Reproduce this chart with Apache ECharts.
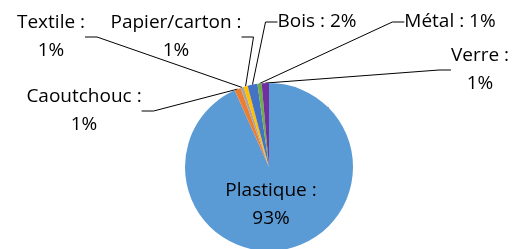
<!DOCTYPE html>
<html><head><meta charset="utf-8">
<script src="https://cdn.jsdelivr.net/npm/echarts@6/dist/echarts.min.js"></script>
<style>html,body{margin:0;padding:0;background:#fff}#c{width:528px;height:249px}</style>
</head><body><div id="c"></div>
<script>
const categories = ['Plastique', 'Caoutchouc', 'Textile', 'Papier/carton', 'Bois', 'Métal', 'Verre'];
const values = [93.3, 1.2, 0.6, 0.8, 1.9, 0.8, 1.4];
const colors = ['#5B9BD5', '#ED7D31', '#A5A5A5', '#FFC000', '#4472C4', '#70AD47', '#7030A0'];
// label layout: [x, y] centre of each label block, and whether it wraps
const labelPos = [[271, 205], [84, 111], [51, 37], [176, 37], [317, 22], [450, 22], [480, 70]];
const wrap = [true, true, true, true, false, false, true];

const total = values.reduce((a, b) => a + b, 0);
const chart = echarts.init(document.getElementById('c'));
chart.setOption({
  animation: false,
  series: [{
    type: 'pie',
    center: [269, 167],
    radius: 84,
    startAngle: 90,
    clockwise: true,
    data: categories.map((n, i) => ({
      name: n, value: values[i],
      itemStyle: { color: colors[i] },
      label: i === 0 ? { position: 'inside' } : {}
    })),
    label: {
      show: true,
      position: 'outside',
      fontFamily: 'Open Sans',
      fontSize: 19,
      lineHeight: 28,
      color: '#000',
      formatter: p => {
        const pct = Math.round(p.value / total * 100) + '%';
        return p.name + ' :' + (wrap[p.dataIndex] ? '\n' : ' ') + pct;
      }
    },
    labelLine: { show: true, length: 10, length2: 12, minTurnAngle: 0, lineStyle: { color: '#000', width: 1 } },
    labelLayout: p => ({
      x: labelPos[p.dataIndex][0],
      y: labelPos[p.dataIndex][1],
      align: 'center',
      verticalAlign: 'middle'
    })
  }]
});
</script></body></html>
